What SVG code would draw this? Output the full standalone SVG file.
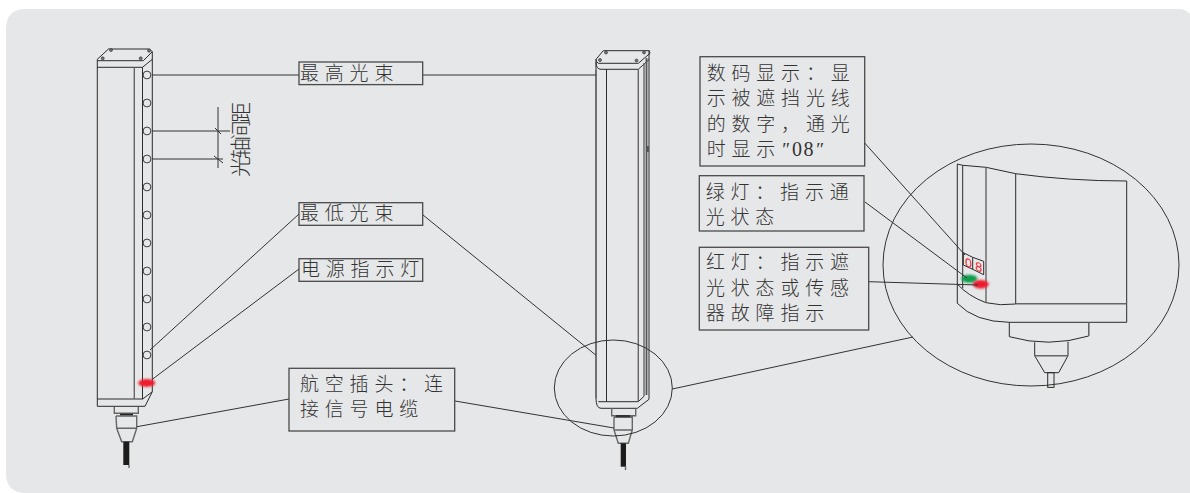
<svg xmlns="http://www.w3.org/2000/svg" width="1190" height="493" viewBox="0 0 1190 493">
<defs>
<style>
.l{fill:none;stroke:#2b2b2b;stroke-width:1}
.g{fill:none;stroke:#666;stroke-width:1.4}
.d{fill:none;stroke:#333;stroke-width:1}
.c{fill:none;stroke:#333;stroke-width:1}
.box{fill:none;stroke:#4a4a4a;stroke-width:1.3}
text{font-family:"Liberation Serif","Noto Sans CJK SC",serif;font-size:19px;fill:#333;letter-spacing:5.8px;font-weight:300}
.dg{font-family:"Liberation Sans",sans-serif;font-size:12.5px;fill:#ed1c24;letter-spacing:0}
</style>
<filter id="b" x="-40%" y="-60%" width="180%" height="220%"><feGaussianBlur stdDeviation="1.1"/></filter>
<circle id="hole" r="3.9" fill="#e6e7e8" stroke="#2b2b2b" stroke-width="0.9"/>
<circle id="bolt" r="1.5" fill="#777" stroke="#2b2b2b" stroke-width="0.6"/>
</defs>
<path d="M26 9H1178Q1186 9 1190 14V493H26Q6 493 6 473V29Q6 9 26 9Z" fill="#e6e7e8"/>

<g id="sensor-left">
<path class="l" d="M97.3 406.3V59.3L108.500 49H149.500L152.300 51.700V391.700L145 406.300H97.300M97.300 67.300H142.500L152.300 59.300M143.300 60.700H97.300M143.300 60.700L152.300 51.700M97.300 399H142.700L152.300 391.700M142.500 67.300V399"/>
<path class="g" d="M134.300 67.300V399"/>
<use href="#bolt" x="111" y="50"/><use href="#bolt" x="149" y="50.700"/><use href="#bolt" x="102.700" y="58.300"/><use href="#bolt" x="140.700" y="58.300"/>
<use href="#hole" x="147" y="75"/><use href="#hole" x="147" y="103"/><use href="#hole" x="147" y="131"/><use href="#hole" x="147" y="159"/><use href="#hole" x="147" y="187"/><use href="#hole" x="147" y="215"/><use href="#hole" x="147" y="243"/><use href="#hole" x="147" y="271"/><use href="#hole" x="147" y="299"/><use href="#hole" x="147" y="327"/><use href="#hole" x="147" y="355"/>
<ellipse cx="146.700" cy="383" rx="8.500" ry="3.900" fill="#ee1c2e" filter="url(#b)"/>
<path class="g" d="M114.300 406.700V413.300H138.300V406.700M116 416H136.700V428.300L132.300 441.700H121.700L116.700 428.300L116 416M116.700 428.300H136.700"/>
<path d="M120 414.500H133" stroke="#222" stroke-width="1.500" fill="none"/>
<rect x="123.300" y="441.700" width="6" height="23.300" fill="#1c1c1c"/>
<path class="g" d="M129 465V468"/>
</g>

<g id="sensor-right">
<path class="l" d="M596 59.300L603.300 50.700H649.300L650 53.300L638.300 63.300H598.300Q596 62 596 59.300M596 59.300V398Q596 408.300 601 408.300H637.300L649 399.300V50.700M638.300 69.300L649.300 59.300M596 62Q596 69.300 601 69.300H638.300M598.300 401.700H638.300L644.300 396M606.500 69.300V401.700"/>
<path class="g" d="M596 70V398M638.300 69.300V401.700M644 63V396"/>
<path d="M646.500 58V395M648 146V152" stroke="#555" stroke-width="1.800" fill="none"/>
<use href="#bolt" x="606" y="52.500"/><use href="#bolt" x="644" y="52.500"/><use href="#bolt" x="600" y="60"/><use href="#bolt" x="636.500" y="60.500"/>
<path class="g" d="M611.700 408.300V415.700H635.700V408.300M614 417.300H632.300V430L628.300 443.300H618.300L614 430V417.300M614 430H632.300"/>
<path d="M616 416H630" stroke="#222" stroke-width="1.500" fill="none"/>
<rect x="620.700" y="443.300" width="5.300" height="23.400" fill="#1c1c1c"/>
<path class="g" d="M625.500 466V470"/>
<ellipse id="zoom-ring" class="c" cx="613.300" cy="388" rx="59" ry="48"/>
</g>

<g id="detail">
<ellipse class="c" cx="1031" cy="265" rx="148" ry="121"/>
<path class="l" d="M957.300 303.300V164L962.700 165.300L986 167.300L1015.700 173.700Q1070 181 1126.700 181V322.300H1009.300Q975 322 957.300 303.300M962.700 165.300V288.300M1015.700 173.700V304M957.300 284Q968 296 986 302.700Q1000 306 1015.700 304"/>
<path class="g" d="M986 167.300V302.700M1015.700 303.700H1126.700"/>
<path class="l" d="M1009.300 322.300V336.700Q1049 348 1088.700 336V322.300M1034.700 342.300V355.700L1044.700 372.700H1058.700L1068 355.700V341.700"/>
<path class="g" d="M1034.700 355.700H1068M1088.700 322.300V336"/>
<rect x="1047.700" y="372.700" width="6.300" height="14.700" class="l"/>
<path class="l" d="M963.300 252.700L972.700 257.300V269.300L963.300 265ZM972.700 257.300L983.700 261.300V274.700L972.700 269.300"/>
<text class="dg" transform="translate(965 266) skewY(20)">0</text>
<text class="dg" transform="translate(975.300 270) skewY(20)">8</text>
<ellipse cx="969.300" cy="278.700" rx="8" ry="4" fill="#0b9e4b" filter="url(#b)"/>
<ellipse cx="980.700" cy="284.300" rx="8" ry="4.200" fill="#ee1c2e" filter="url(#b)"/>
</g>

<g id="dimension">
<path class="d" d="M152 131H230M152 159H223M218 107V168M215 128L221 134M214 156L223 163"/>
<text transform="translate(248 177) rotate(-90)" style="font-size:21px;letter-spacing:-3px">光轴间距</text>
</g>

<g id="connectors">
<path class="c" d="M152 75H299M423 75H596M299 214L150 350M299 269L152.700 379M289 399L137 426.700M455 401L614 428M423 215L595.700 355M672.300 389L913 337M864.700 143L965 255M865 202L967 278M868.700 281.700L978 285"/>
</g>

<g id="label-top"><rect class="box" x="299" y="62" width="123.700" height="22.600"/><text x="300" y="80">最高光束</text></g>
<g id="label-low"><rect class="box" x="299" y="202.700" width="123.700" height="22.600"/><text x="300" y="220">最低光束</text></g>
<g id="label-power"><rect class="box" x="299" y="258.700" width="123.700" height="22.600"/><text x="301" y="276">电源指示灯</text></g>
<g id="label-plug"><rect class="box" x="289" y="368.300" width="165.700" height="62.700"/><text x="300" y="391">航空插头：连</text><text x="300" y="416">接信号电缆</text></g>
<g id="label-digit"><rect class="box" x="700" y="56.700" width="164.700" height="109.300"/><text x="706.700" y="79.500">数码显示：显</text><text x="706.700" y="105">示被遮挡光线</text><text x="706.700" y="130.500">的数字，通光</text><text x="706.700" y="156">时显示<tspan font-style="italic" style="letter-spacing:3px">″</tspan><tspan style="letter-spacing:1.500px;font-size:20px">08</tspan><tspan font-style="italic" style="letter-spacing:0">″</tspan></text></g>
<g id="label-green"><rect class="box" x="699.300" y="175.700" width="164.700" height="55.300"/><text x="705.700" y="199">绿灯：指示通</text><text x="705.700" y="224">光状态</text></g>
<g id="label-red"><rect class="box" x="699.300" y="247.300" width="169.400" height="82.700"/><text x="706" y="269">红灯：指示遮</text><text x="706" y="295">光状态或传感</text><text x="706" y="320">器故障指示</text></g>
</svg>
